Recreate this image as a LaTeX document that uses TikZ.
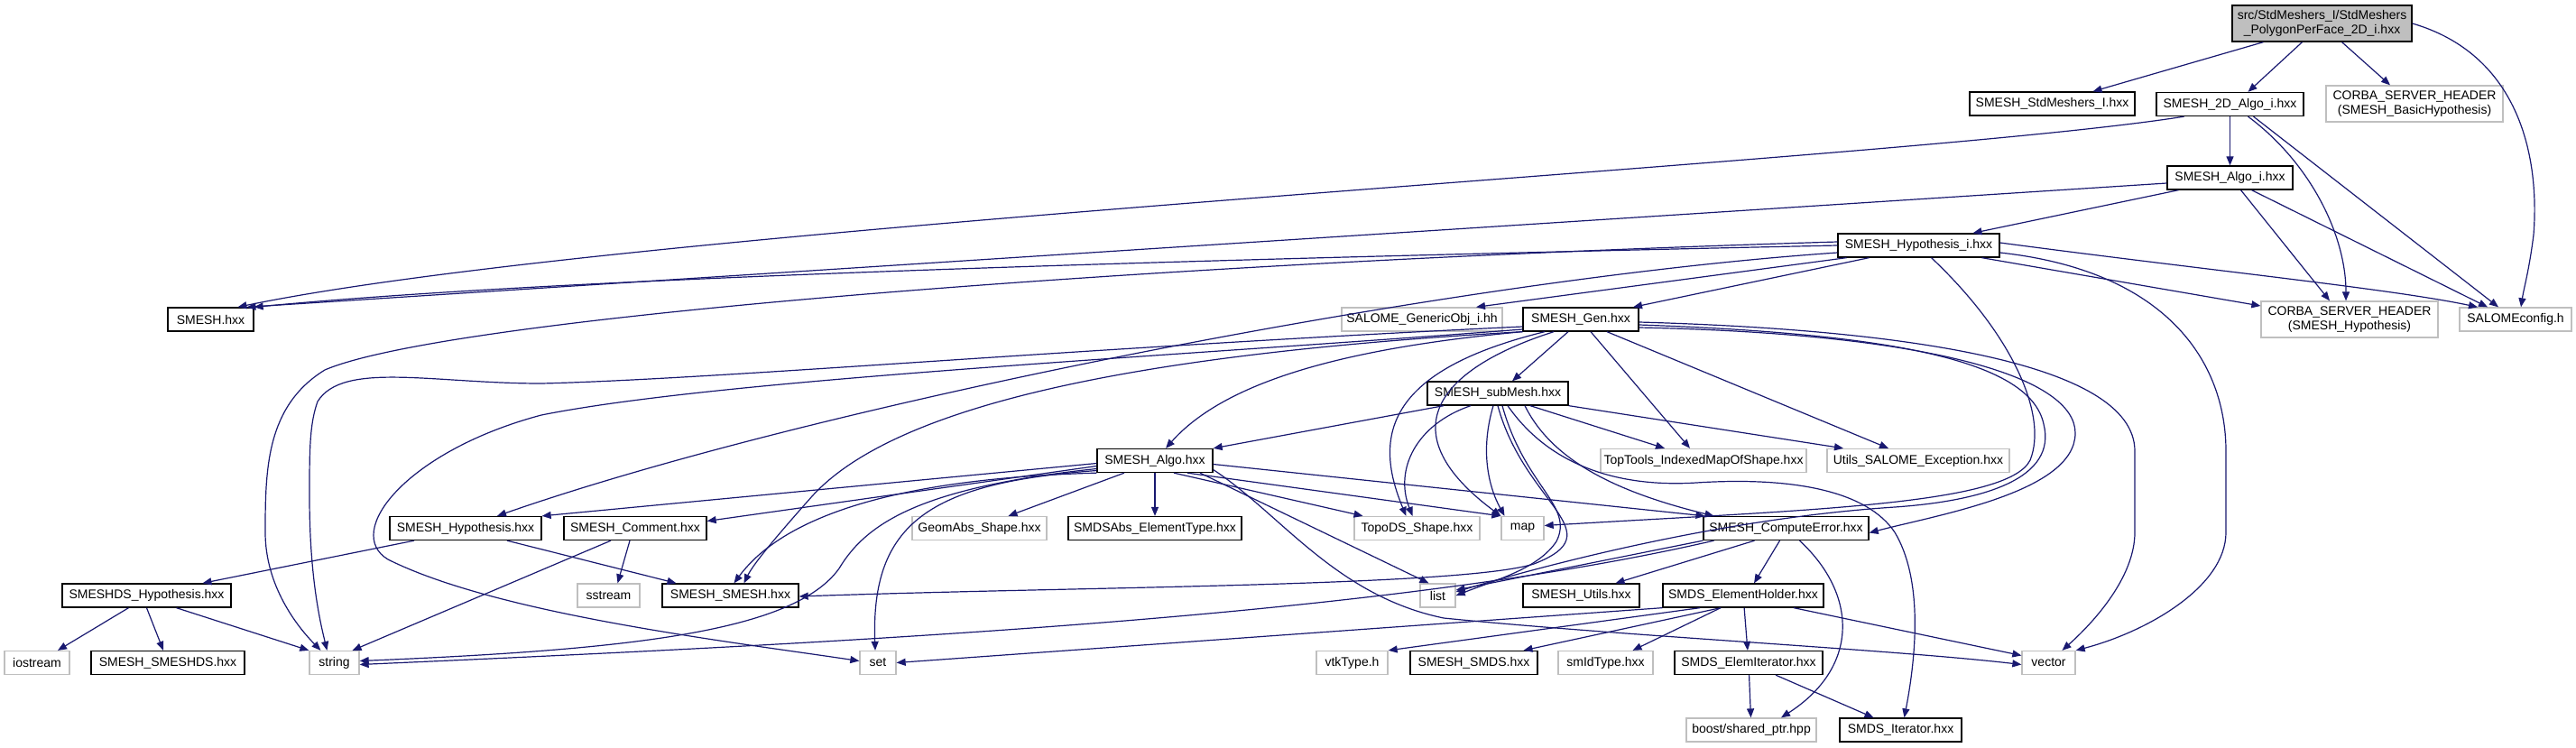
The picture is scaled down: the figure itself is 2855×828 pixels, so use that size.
\documentclass[tikz,border=0pt]{standalone}
\usepackage{fontspec}
\setmainfont{Liberation Sans}
\usetikzlibrary{arrows.meta}
\definecolor{edgeblue}{HTML}{191970}
\definecolor{gborder}{HTML}{BFBFBF}
\begin{document}
\begin{tikzpicture}[x=1pt,y=-1pt,
  box/.style={draw=black, line width=1.3pt, fill=white, inner sep=0pt, minimum height=26pt, font=\fontsize{14}{16.5}\selectfont, align=center},
  gbox/.style={box, draw=gborder},
  mainbox/.style={box, fill=gborder, minimum height=40pt},
  dep/.style={draw=edgeblue, line width=1.2pt, -{Triangle[length=10pt,width=8pt]}}]
\useasboundingbox (0,0) rectangle (2855,828);
\fill[white] (0,0) rectangle (2855,828);
% nodes
\node[mainbox, minimum width=199pt] (main) at (2573.5,26) {src/StdMeshers\_I/StdMeshers\\\_PolygonPerFace\_2D\_i.hxx};
\node[box, minimum width=183pt] (std) at (2274.5,115) {SMESH\_StdMeshers\_I.hxx};
\node[box, minimum width=163pt] (algo2d) at (2471.5,115.5) {SMESH\_2D\_Algo\_i.hxx};
\node[gbox, minimum width=196pt, minimum height=40pt] (corbaB) at (2676,115) {CORBA\_SERVER\_HEADER\\(SMESH\_BasicHypothesis)};
\node[box, minimum width=139pt] (algoi) at (2471.5,197) {SMESH\_Algo\_i.hxx};
\node[box, minimum width=179pt] (hypi) at (2126.5,272) {SMESH\_Hypothesis\_i.hxx};
\node[box, minimum width=95pt] (smesh) at (233.5,354) {SMESH.hxx};
\node[gbox, minimum width=178pt] (generic) at (1576,354) {SALOME\_GenericObj\_i.hh};
\node[box, minimum width=128pt] (gen) at (1752,354) {SMESH\_Gen.hxx};
\node[gbox, minimum width=196pt, minimum height=40pt] (corbaH) at (2604,354) {CORBA\_SERVER\_HEADER\\(SMESH\_Hypothesis)};
\node[gbox, minimum width=124pt] (salome) at (2788,354) {SALOMEconfig.h};
\node[box, minimum width=156pt] (submesh) at (1660,436) {SMESH\_subMesh.hxx};
\node[box, minimum width=128pt] (algo) at (1280,510.5) {SMESH\_Algo.hxx};
\node[gbox, minimum width=228pt] (toptools) at (1888,510.5) {TopTools\_IndexedMapOfShape.hxx};
\node[gbox, minimum width=202pt] (utils) at (2126,510.5) {Utils\_SALOME\_Exception.hxx};
\node[box, minimum width=168pt] (hyp) at (516,585.5) {SMESH\_Hypothesis.hxx};
\node[box, minimum width=158pt] (comment) at (704,585.5) {SMESH\_Comment.hxx};
\node[gbox, minimum width=149pt] (geomabs) at (1085.5,585.5) {GeomAbs\_Shape.hxx};
\node[box, minimum width=192pt] (smdsabs) at (1280,585.5) {SMDSAbs\_ElementType.hxx};
\node[gbox, minimum width=139pt] (topods) at (1570.5,585.5) {TopoDS\_Shape.hxx};
\node[gbox, minimum width=47pt] (map) at (1687.5,585.5) {map};
\node[box, minimum width=183pt] (ce) at (1979.5,585.5) {SMESH\_ComputeError.hxx};
\node[box, minimum width=187pt] (smeshdsh) at (162.5,660) {SMESHDS\_Hypothesis.hxx};
\node[gbox, minimum width=69pt] (sstream) at (674.5,660) {sstream};
\node[box, minimum width=151pt] (smeshsmesh) at (809.5,660) {SMESH\_SMESH.hxx};
\node[gbox, minimum width=39pt] (list) at (1593.5,660) {list};
\node[box, minimum width=129pt] (utilsh) at (1752.5,660) {SMESH\_Utils.hxx};
\node[box, minimum width=178pt] (eh) at (1932,660) {SMDS\_ElementHolder.hxx};
\node[gbox, minimum width=72pt] (iostream) at (41,734.5) {iostream};
\node[box, minimum width=170pt] (smeshds) at (186,734.5) {SMESH\_SMESHDS.hxx};
\node[gbox, minimum width=55pt] (string) at (370.5,734.5) {string};
\node[gbox, minimum width=40pt] (set) at (973,734.5) {set};
\node[gbox, minimum width=79pt] (vtk) at (1498.5,734.5) {vtkType.h};
\node[box, minimum width=141pt] (smds) at (1633.5,734.5) {SMESH\_SMDS.hxx};
\node[gbox, minimum width=105pt] (smid) at (1779.5,734.5) {smIdType.hxx};
\node[box, minimum width=164pt] (elemit) at (1938,734.5) {SMDS\_ElemIterator.hxx};
\node[gbox, minimum width=59pt] (vector) at (2270.5,734.5) {vector};
\node[gbox, minimum width=144pt] (boost) at (1941,809) {boost/shared\_ptr.hpp};
\node[box, minimum width=135pt] (smdsit) at (2106.5,809) {SMDS\_Iterator.hxx};
% edges from main
\draw[dep] ([xshift=-65pt]main.south) -- ([xshift=45pt]std.north);
\draw[dep] ([xshift=-22pt]main.south) -- ([xshift=20pt]algo2d.north);
\draw[dep] ([xshift=22pt]main.south) -- ([xshift=-27pt]corbaB.north);
\draw[dep] (main.east) .. controls (2790,60) and (2815,170) .. (2808,260) .. controls (2803,300) and (2797,320) .. ([xshift=6pt]salome.north);
% algo2d
\draw[dep] ([xshift=-51pt]algo2d.south) .. controls (2100,180) and (700,250) .. ([xshift=30pt]smesh.north);
\draw[dep] (algo2d) -- (algoi);
\draw[dep] ([xshift=20pt]algo2d.south) .. controls (2560,180) and (2600,260) .. ([xshift=-4pt]corbaH.north);
\draw[dep] ([xshift=26pt]algo2d.south) -- ([xshift=-19pt]salome.north);
% algoi
\draw[dep] ([yshift=-6pt]algoi.west) -- ([xshift=40pt]smesh.north);
\draw[dep] ([xshift=-57pt]algoi.south) -- ([xshift=60pt]hypi.north);
\draw[dep] ([xshift=12pt]algoi.south) -- ([xshift=-22pt]corbaH.north);
\draw[dep] ([xshift=24pt]algoi.south) -- ([xshift=-31pt]salome.north);
% hypi
\draw[dep] (hypi.west) .. controls (1200,290) and (600,310) .. (smesh.north east);
\draw[dep] ([xshift=70pt]hypi.south) -- ([yshift=15pt]corbaH.west);
\draw[dep] ([yshift=3pt]hypi.east) .. controls (2450,300) and (2650,320) .. ([xshift=-42pt]salome.north);
\draw[dep] ([xshift=-80pt]hypi.south) -- ([xshift=60pt]generic.north);
\draw[dep] ([xshift=-55pt]hypi.south) -- ([xshift=58pt]gen.north);
\draw[dep] ([yshift=-8pt]hypi.west) .. controls (1600,310) and (900,450) .. ([xshift=35pt]hyp.north);
\draw[dep] ([yshift=4pt]hypi.west) .. controls (1300,290) and (500,350) .. (360,410) .. controls (295,450) and (294,520) .. (294,590) .. controls (294,650) and (330,695) .. ([xshift=-15pt]string.north);
\draw[dep] ([xshift=14pt]hypi.south) .. controls (2230,370) and (2270,460) .. (2250,510) .. controls (2225,560) and (2000,565) .. ([yshift=3pt]map.east);
\draw[dep] ([yshift=-8pt]hypi.east) .. controls (2400,300) and (2467,400) .. (2467,500) -- (2467,590) .. controls (2467,650) and (2380,700) .. (vector.north east);
% gen
\draw[dep] ([yshift=-3pt]gen.east) .. controls (2100,365) and (2366,400) .. (2366,500) -- (2366,590) .. controls (2366,640) and (2320,690) .. ([xshift=15pt]vector.north);
\draw[dep] ([xshift=-14pt]gen.south) -- ([xshift=16pt]submesh.north);
\draw[dep] ([xshift=11pt]gen.south) -- ([xshift=-15pt]toptools.north);
\draw[dep] ([xshift=29pt]gen.south) -- ([xshift=-33pt]utils.north);
\draw[dep] (gen.south west) .. controls (1500,385) and (1360,420) .. ([xshift=12pt]algo.north);
\draw[dep] (gen.south west) .. controls (1300,390) and (1000,440) .. (900,550) .. controls (860,595) and (835,625) .. ([xshift=15pt]smeshsmesh.north);
\draw[dep] ([yshift=-8pt]gen.west) .. controls (1200,385) and (800,420) .. (600,425) .. controls (480,425) and (380,400) .. (352,445) .. controls (343,470) and (343,500) .. (343,550) .. controls (343,640) and (355,690) .. ([xshift=-8pt]string.north);
\draw[dep] ([yshift=-11pt]gen.west) .. controls (1300,395) and (800,420) .. (600,460) .. controls (450,500) and (380,590) .. (430,620) .. controls (550,680) and (800,710) .. ([yshift=2pt]set.west);
\draw[dep] ([xshift=-40pt]gen.south) .. controls (1540,410) and (1520,480) .. ([xshift=-12pt]topods.north);
\draw[dep] ([xshift=-30pt]gen.south) .. controls (1590,410) and (1540,480) .. (map.north west);
\draw[dep] ([yshift=-6pt]gen.east) .. controls (2100,370) and (2250,400) .. (2265,470) .. controls (2280,530) and (2200,555) .. (2100,562) .. controls (1900,575) and (1700,630) .. ([yshift=4pt]list.east);
\draw[dep] ([yshift=-9pt]gen.east) .. controls (2150,370) and (2300,420) .. (2300,480) .. controls (2300,545) and (2150,570) .. ([yshift=-5pt]ce.east);
% submesh
\draw[dep] ([xshift=-60pt]submesh.south) -- (algo.north east);
\draw[dep] ([xshift=36pt]submesh.south) -- ([xshift=-43pt]toptools.north);
\draw[dep] (submesh.south east) -- ([xshift=-83pt]utils.north);
\draw[dep] ([xshift=11pt]submesh.south) .. controls (1720,520) and (1800,540) .. (1880,535) .. controls (1990,528) and (2070,545) .. (2100,590) .. controls (2130,640) and (2125,720) .. ([xshift=4pt]smdsit.north);
\draw[dep] ([xshift=-30pt]submesh.south) .. controls (1570,470) and (1545,520) .. ([xshift=-5pt]topods.north);
\draw[dep] ([xshift=-5pt]submesh.south) .. controls (1640,500) and (1650,540) .. ([xshift=-20pt]map.north);
\draw[dep] ([xshift=5pt]submesh.south) .. controls (1690,540) and (1745,560) .. (1725,600) .. controls (1705,630) and (1660,642) .. (list.east);
\draw[dep] ([xshift=30pt]submesh.south) .. controls (1720,510) and (1790,545) .. ([xshift=-80pt]ce.north);
\draw[dep] (submesh.south) .. controls (1690,560) and (1790,590) .. (1700,625) .. controls (1620,650) and (1200,650) .. ([yshift=-1pt]smeshsmesh.east);
% algo
\draw[dep] ([yshift=-3pt]algo.west) -- (hyp.north east);
\draw[dep] ([yshift=-6pt]algo.west) -- ([yshift=8pt]comment.east);
\draw[dep] (algo.south west) .. controls (1000,530) and (870,570) .. ([xshift=4pt]smeshsmesh.north);
\draw[dep] ([yshift=-9pt]algo.west) .. controls (1020,540) and (960,580) .. (930,630) .. controls (880,700) and (700,720) .. ([yshift=2pt]string.east);
\draw[dep] ([yshift=-11pt]algo.west) .. controls (1030,535) and (965,580) .. ([xshift=-3pt]set.north);
\draw[dep] ([xshift=-34pt]algo.south) -- ([xshift=32pt]geomabs.north);
\draw[dep] (algo) -- (smdsabs);
\draw[dep] ([xshift=21pt]algo.south) -- ([xshift=-60pt]topods.north);
\draw[dep] ([xshift=36pt]algo.south) -- (map.north west);
\draw[dep] ([xshift=50pt]algo.south) -- ([xshift=-10pt]list.north);
\draw[dep] ([yshift=-4pt]algo.east) -- ([xshift=-90pt]ce.north);
\draw[dep] ([yshift=-10pt]algo.east) .. controls (1420,570) and (1480,660) .. (1600,685) .. controls (1800,705) and (2100,720) .. ([yshift=-2pt]vector.west);
% hyp, comment, smeshdsh
\draw[dep] ([xshift=-57pt]hyp.south) -- ([xshift=62pt]smeshdsh.north);
\draw[dep] ([xshift=46pt]hyp.south) -- ([xshift=-60pt]smeshsmesh.north);
\draw[dep] ([xshift=-6pt]comment.south) -- ([xshift=10pt]sstream.north);
\draw[dep] ([xshift=-27pt]comment.south) -- ([xshift=20pt]string.north);
\draw[dep] ([xshift=-20pt]smeshdsh.south) -- ([xshift=23pt]iostream.north);
\draw[dep] (smeshdsh.south) -- ([xshift=-5pt]smeshds.north);
\draw[dep] ([xshift=33pt]smeshdsh.south) -- (string.north west);
% ce
\draw[dep] ([xshift=-35pt]ce.south) -- ([xshift=38pt]utilsh.north);
\draw[dep] ([xshift=-7pt]ce.south) -- ([xshift=12pt]eh.north);
\draw[dep] ([xshift=15pt]ce.south) .. controls (2060,660) and (2060,740) .. ([xshift=33pt]boost.north);
\draw[dep] (ce.south west) -- ([yshift=6pt]list.east);
\draw[dep] ([xshift=-80pt]ce.south) .. controls (1550,680) and (1000,710) .. ([yshift=-2pt]string.east);
% eh
\draw[dep] ([xshift=-48pt]eh.south) -- (vtk.north east);
\draw[dep] ([xshift=-25pt]eh.south) -- ([xshift=55pt]smds.north);
\draw[dep] ([xshift=-25pt]eh.south) -- ([xshift=30pt]smid.north);
\draw[dep] (eh) -- (elemit);
\draw[dep] ([xshift=56pt]eh.south) -- ([yshift=8pt]vector.west);
\draw[dep] (eh.south west) -- (set.east);
% elemit
\draw[dep] (elemit) -- (boost);
\draw[dep] ([xshift=30pt]elemit.south) -- ([xshift=-30pt]smdsit.north);
\end{tikzpicture}
\end{document}
